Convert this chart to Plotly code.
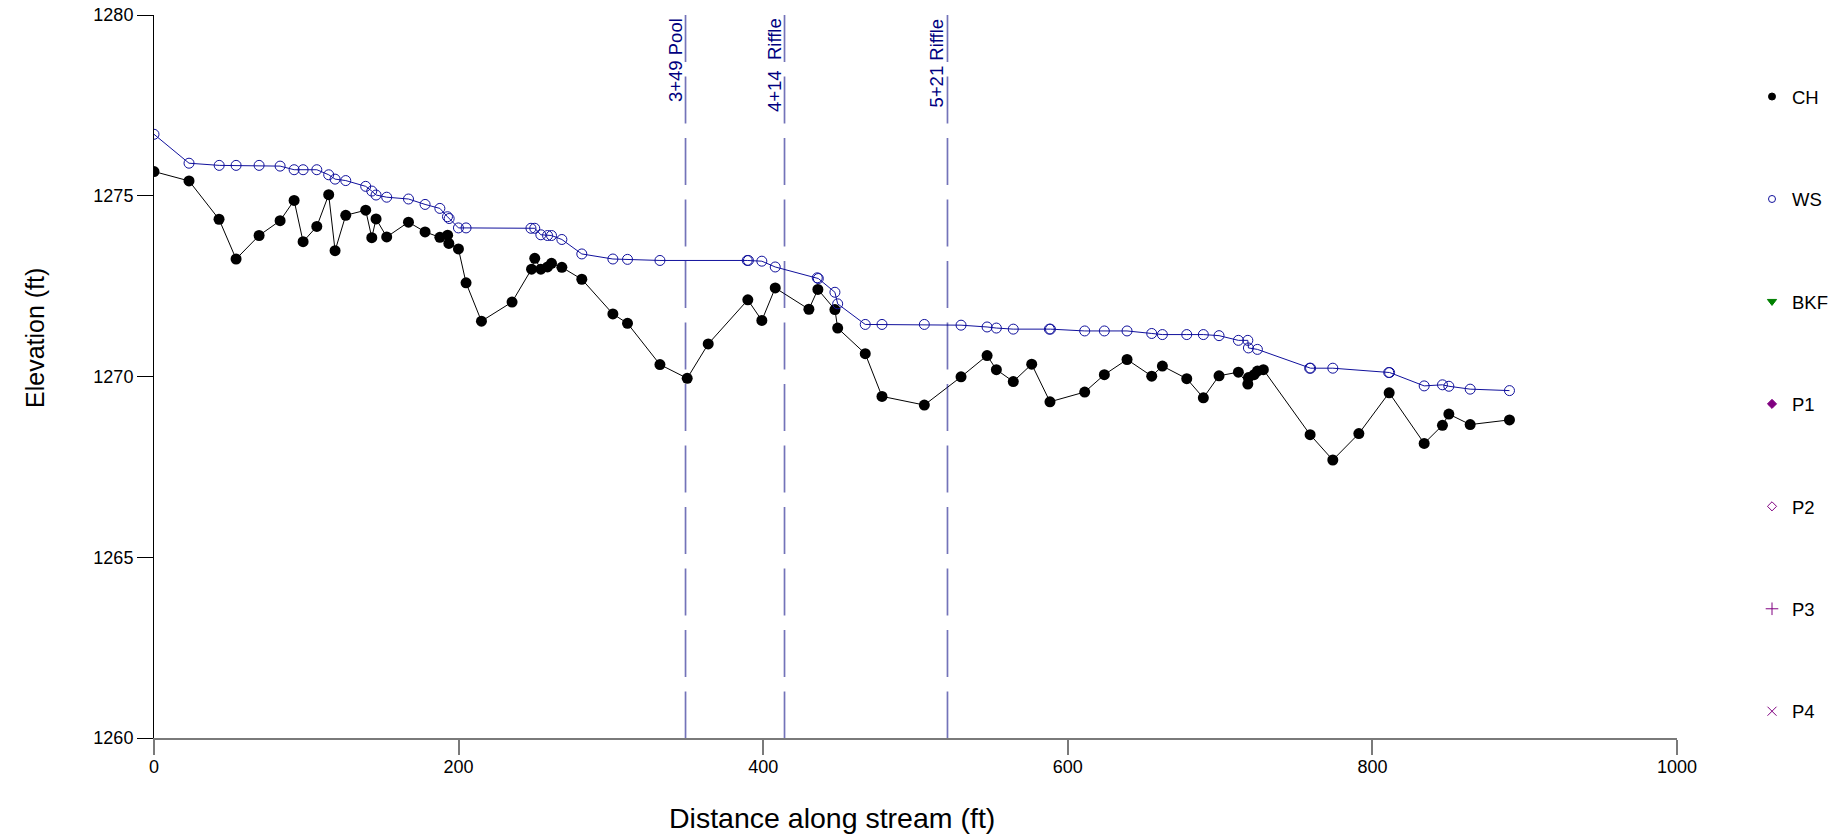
import plotly.graph_objects as go

# ---------------- data ----------------
ch_dist = [0, 23.0, 42.7, 53.9, 69.0, 82.8, 92.0, 97.9, 106.9, 114.7, 118.9, 125.9,
           139.0, 143.0, 145.8, 152.8, 167.1, 178.0, 187.7, 192.8, 193.6, 199.9,
           204.9, 215.0, 235.1, 247.9, 250.0, 254.0, 258.4, 261.0, 267.8, 280.9,
           301.3, 310.9, 332.2, 350.1, 363.9, 389.9, 399.1, 407.9, 430.0, 435.9,
           447.1, 448.9, 467.0, 478.0, 505.8, 529.9, 547.0, 553.1, 564.2, 576.3,
           588.3, 611.1, 624.0, 638.9, 655.1, 662.1, 678.1, 689.0, 699.3, 712.0,
           718.2, 718.6, 722.3, 724.5, 728.4, 759.1, 774.0, 791.1, 811.0, 834.0,
           846.0, 850.2, 864.2, 890.0]
ch_elev = [1275.67, 1275.41, 1274.35, 1273.25, 1273.90, 1274.31, 1274.87, 1273.73,
           1274.15, 1275.03, 1273.48, 1274.46, 1274.60, 1273.84, 1274.36, 1273.86,
           1274.27, 1274.00, 1273.85, 1273.91, 1273.68, 1273.53, 1272.59, 1271.53,
           1272.06, 1272.97, 1273.27, 1272.97, 1273.03, 1273.13, 1273.02, 1272.69,
           1271.73, 1271.47, 1270.33, 1269.95, 1270.90, 1272.12, 1271.55, 1272.45,
           1271.86, 1272.41, 1271.85, 1271.34, 1270.63, 1269.45, 1269.21, 1269.99,
           1270.58, 1270.19, 1269.86, 1270.34, 1269.30, 1269.57, 1270.05, 1270.47,
           1270.01, 1270.29, 1269.94, 1269.41, 1270.02, 1270.12, 1269.79, 1269.97,
           1270.05, 1270.15, 1270.19, 1268.39, 1267.69, 1268.42, 1269.55, 1268.15,
           1268.65, 1268.96, 1268.67, 1268.80]

ws_dist = [0, 23.0, 42.8, 53.9, 69.0, 82.8, 92.0, 97.9, 106.9, 114.7, 118.9, 125.9,
           139.0, 143.0, 145.8, 152.8, 167.1, 178.0, 187.7, 192.7, 193.8, 199.9,
           204.9, 247.5, 250.0, 254.0, 258.4, 261.0, 267.8, 280.9, 301.3, 310.9,
           332.2, 389.5, 390.3, 399.1, 407.9, 435.5, 436.2, 447.1, 448.9, 467.0,
           478.0, 505.8, 529.9, 547.0, 553.1, 564.2, 587.9, 588.6, 611.1, 624.0,
           638.9, 655.1, 662.1, 678.1, 689.0, 699.3, 712.0, 718.2, 718.6, 724.5,
           758.8, 759.4, 774.0, 810.7, 811.3, 834.0, 846.0, 850.2, 864.2, 890.0]
ws_elev = [1276.70, 1275.90, 1275.84, 1275.84, 1275.84, 1275.82, 1275.72, 1275.72,
           1275.72, 1275.58, 1275.46, 1275.42, 1275.26, 1275.13, 1275.02, 1274.96,
           1274.91, 1274.76, 1274.65, 1274.42, 1274.37, 1274.11, 1274.11, 1274.10,
           1274.10, 1273.92, 1273.90, 1273.90, 1273.79, 1273.39, 1273.25, 1273.24,
           1273.21, 1273.21, 1273.21, 1273.19, 1273.03, 1272.73, 1272.71, 1272.33,
           1272.01, 1271.44, 1271.44, 1271.44, 1271.42, 1271.37, 1271.34, 1271.31,
           1271.31, 1271.31, 1271.26, 1271.26, 1271.26, 1271.19, 1271.16, 1271.16,
           1271.16, 1271.13, 1271.00, 1271.00, 1270.79, 1270.75, 1270.23, 1270.23,
           1270.23, 1270.11, 1270.11, 1269.74, 1269.77, 1269.73, 1269.65, 1269.61]

feature_dist = [349, 414, 521]
feature_labels = ["3+49 Pool", "4+14\u00a0 Riffle", "5+21 Riffle"]

x_ticks = [0, 200, 400, 600, 800, 1000]
y_ticks = [1260, 1265, 1270, 1275, 1280]

legend_names = ["CH", "WS", "BKF", "P1", "P2", "P3", "P4"]
legend_symbols = ["circle", "circle-open", "triangle-down", "diamond", "diamond-open",
                  "cross-thin-open", "x-thin-open"]
legend_colors = ["black", "#10109c", "green", "purple", "purple", "purple", "purple"]
legend_sizes = [7, 7, 8, 7, 7, 9, 9]

# ---------------- styling ----------------
FONT = "Liberation Sans, Arial, sans-serif"
NAVY = "#10109c"
W, H = 1845, 840
ML, MR, MT, MB = 154, 168, 15, 102
PW, PH = W - ML - MR, H - MT - MB


def px_to_paper_x(px):
    return (px - ML) / PW


def px_to_paper_y(py):
    return (H - MB - py) / PH


fig = go.Figure()

fig.add_trace(go.Scatter(
    x=ch_dist, y=ch_elev, mode="lines+markers", showlegend=False,
    line=dict(color="black", width=1),
    marker=dict(symbol="circle", size=11, color="black"),
))
fig.add_trace(go.Scatter(
    x=ws_dist, y=ws_elev, mode="lines+markers", showlegend=False,
    line=dict(color=NAVY, width=1),
    marker=dict(symbol="circle-open", size=10, color=NAVY, line=dict(width=1, color=NAVY)),
))

for name, sym, col, sz in zip(legend_names, legend_symbols, legend_colors, legend_sizes):
    fig.add_trace(go.Scatter(
        x=[None], y=[None], mode="markers", name=name, legendgroup=name,
        marker=dict(symbol=sym, size=sz, color=col, line=dict(width=1, color=col)),
    ))

shapes = []
annotations = []
for d, lab in zip(feature_dist, feature_labels):
    shapes.append(dict(
        type="line", xref="x", yref="paper", x0=d, x1=d, y0=1, y1=0,
        line=dict(color="rgba(0,0,128,0.55)", width=1.7, dash="47px,14.5px"),
    ))
    annotations.append(dict(
        x=d, xref="x", y=1, yref="paper", text=lab, showarrow=False,
        textangle=-90, xanchor="right", yanchor="top", xshift=2, yshift=-1,
        font=dict(family=FONT, size=18.5, color="#000080"),
    ))

annotations.append(dict(
    text="Elevation (ft)", x=px_to_paper_x(35), y=px_to_paper_y(338),
    xref="paper", yref="paper", showarrow=False, textangle=-90,
    xanchor="center", yanchor="middle", font=dict(family=FONT, size=25, color="black"),
))
annotations.append(dict(
    text="Distance along stream (ft)", x=px_to_paper_x(832), y=px_to_paper_y(818),
    xref="paper", yref="paper", showarrow=False,
    xanchor="center", yanchor="middle", font=dict(family=FONT, size=28.5, color="black"),
))

fig.update_layout(
    width=W, height=H,
    margin=dict(l=ML, r=MR, t=MT, b=MB, pad=0, autoexpand=False),
    paper_bgcolor="white", plot_bgcolor="white",
    font=dict(family=FONT, size=18, color="black"),
    shapes=shapes, annotations=annotations,
    legend=dict(x=px_to_paper_x(1752), xanchor="left", y=px_to_paper_y(78), yanchor="top",
                tracegroupgap=75.4, font=dict(family=FONT, size=18.5, color="black"),
                bgcolor="rgba(0,0,0,0)", itemsizing="trace"),
    xaxis=dict(range=[0, 1000], tickvals=x_ticks, ticks="outside", ticklen=15,
               tickwidth=2, tickcolor="#7a7a7a", showline=True, linecolor="#7a7a7a",
               linewidth=2, showgrid=False, zeroline=False, automargin=False,
               ticklabelstandoff=-4,
               tickfont=dict(family=FONT, size=18, color="black")),
    xaxis2=dict(range=[0, 1000], tickvals=x_ticks, ticks="inside", ticklen=15,
                tickwidth=2, tickcolor="#7a7a7a", overlaying="x", anchor="y",
                side="bottom", showticklabels=False, showline=False,
                showgrid=False, zeroline=False),
    yaxis=dict(range=[1260, 1280], tickvals=y_ticks, ticks="outside", ticklen=16,
               tickwidth=1, tickcolor="black", showline=True, linecolor="black",
               linewidth=1, showgrid=False, zeroline=False, automargin=False,
               tickfont=dict(family=FONT, size=18, color="black")),
    yaxis2=dict(range=[1260, 1280], tickvals=y_ticks, ticks="inside", ticklen=16,
                tickwidth=1, tickcolor="black", overlaying="y", anchor="x",
                side="left", showticklabels=False, showline=False,
                showgrid=False, zeroline=False),
)

fig.write_html("out.html")
